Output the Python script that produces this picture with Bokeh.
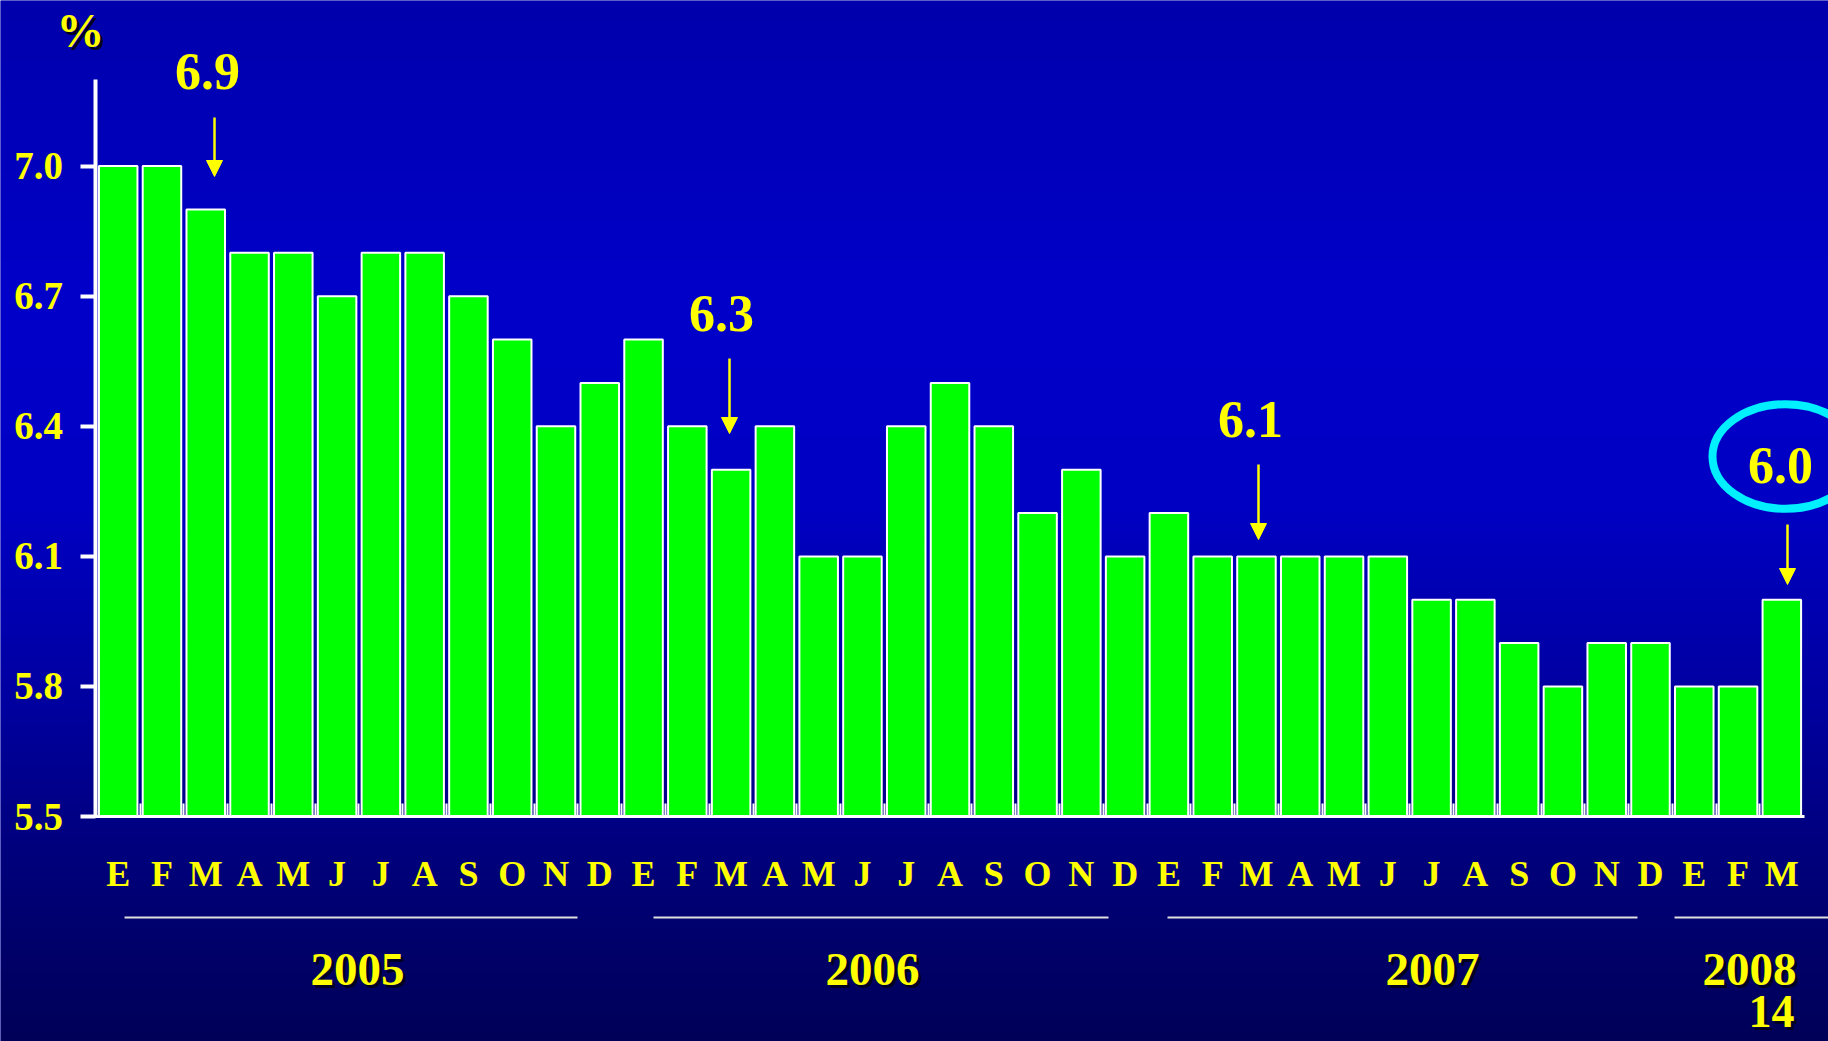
import numpy as np
from bokeh.plotting import figure
from bokeh.models import Range1d, LinearAxis, FixedTicker, Arrow, NormalHead, PrintfTickFormatter
from bokeh.core.properties import value
from bokeh.embed import file_html
from bokeh.resources import INLINE

# ---------------- data ----------------
months = ["E", "F", "M", "A", "M", "J", "J", "A", "S", "O", "N", "D"] * 3 + ["E", "F", "M"]
years = ["2005", "2006", "2007", "2008"]
values_2005 = [7.0, 7.0, 6.9, 6.8, 6.8, 6.7, 6.8, 6.8, 6.7, 6.6, 6.4, 6.5]
values_2006 = [6.6, 6.4, 6.3, 6.4, 6.1, 6.1, 6.4, 6.5, 6.4, 6.2, 6.3, 6.1]
values_2007 = [6.2, 6.1, 6.1, 6.1, 6.1, 6.1, 6.0, 6.0, 5.9, 5.8, 5.9, 5.9]
values_2008 = [5.8, 5.8, 6.0]
y_ticks = [5.5, 5.8, 6.1, 6.4, 6.7, 7.0]
highlight_idx = [2, 14, 26, 38]
unit_label = "%"
page_number = "14"
baseline_value = 5.5

values = values_2005 + values_2006 + values_2007 + values_2008
idx = list(range(len(values)))

# ---------------- layout (pixels) ----------------
W, H = 1828, 1041
X0, S = 95.8, 43.78      # left edge of first slot, slot width
Y55, K = 816.1, 433.7    # pixel row of 5.5, pixels per unit
TXT_SHIFT = -20          # text baseline correction

def dx(px):
    return -0.5 + (px - X0) / S

def dy(py):
    return baseline_value + (Y55 - py) / K

def ty(py):
    return dy(py + TXT_SHIFT)

YEL = "#FFFF00"
FONT = value("Liberation Serif")

p = figure(width=W, height=H, min_border=0, output_backend="svg", toolbar_location=None,
           x_range=Range1d(dx(0), dx(W)), y_range=Range1d(dy(H), dy(0)),
           x_axis_type=None, y_axis_type=None)
p.outline_line_color = None
p.background_fill_color = "#0000B0"
p.border_fill_color = "#0000B0"

# background gradient
rows = np.arange(H)
stops_px = [0, 300, 500, 700, 850, H]
stops_b = [172, 202, 196, 160, 125, 88]
blue = np.interp(rows, stops_px, stops_b)[::-1]
rgba = np.zeros((H, 2, 4), dtype=np.uint8)
rgba[:, :, 2] = blue[:, None].astype(np.uint8)
rgba[:, :, 3] = 255
img = rgba.view(dtype=np.uint32).reshape((H, 2))
p.image_rgba(image=[img], x=dx(0), y=dy(H), dw=dx(W) - dx(0), dh=dy(0) - dy(H))

# bars
p.vbar(x=idx, top=values, bottom=baseline_value, width=0.88,
       fill_color="#00FF00", line_color="white", line_width=2)

# x axis
xaxis = LinearAxis(fixed_location=baseline_value, bounds=(dx(94), dx(1804)),
                   ticker=FixedTicker(ticks=idx, minor_ticks=[i + 0.5 for i in idx[:-1]]),
                   major_label_overrides={i: m for i, m in enumerate(months)})
xaxis.axis_line_color = "white"
xaxis.axis_line_width = 3
xaxis.major_tick_line_color = None
xaxis.major_tick_out = 0
xaxis.major_tick_in = 0
xaxis.minor_tick_line_color = "white"
xaxis.minor_tick_line_width = 2
xaxis.minor_tick_in = 13
xaxis.minor_tick_out = 0
xaxis.major_label_standoff = 37
xaxis.major_label_text_font = "Liberation Serif"
xaxis.major_label_text_font_style = "bold"
xaxis.major_label_text_font_size = "36px"
xaxis.major_label_text_color = YEL
p.add_layout(xaxis, "below")

# y axis
yaxis = LinearAxis(fixed_location=dx(94.5), bounds=(baseline_value, 7.2),
                   ticker=FixedTicker(ticks=y_ticks, minor_ticks=[]),
                   formatter=PrintfTickFormatter(format="%.1f"))
yaxis.axis_line_color = "white"
yaxis.axis_line_width = 4
yaxis.major_tick_line_color = "white"
yaxis.major_tick_line_width = 4
yaxis.major_tick_out = 15
yaxis.major_tick_in = 0
yaxis.minor_tick_line_color = None
yaxis.major_label_standoff = 17
yaxis.major_label_text_font = "Liberation Serif"
yaxis.major_label_text_font_style = "bold"
yaxis.major_label_text_font_size = "39px"
yaxis.major_label_text_color = YEL
p.add_layout(yaxis, "left")

# "%" unit label with shadow
for off, col in ((3, "#000022"), (0, YEL)):
    p.text(x=[dx(80)], y=[ty(50)], text=[unit_label], text_font=FONT, text_font_style="bold",
           text_font_size="48px", text_color=col, text_align="center",
           text_baseline="alphabetic", x_offset=off, y_offset=off)

# highlight annotations
ann_text_x = [207, 721, 1250, 1780]
ann_text_y = [91, 333, 439, 485]
ann_arrow_x = [214, 729, 1258, 1787]
ann_arrow_y0 = [117, 358, 464, 524]
ann_arrow_y1 = [176, 433, 539, 584]
ann_labels = ["%.1f" % values[i] for i in highlight_idx]
p.text(x=[dx(v) for v in ann_text_x], y=[ty(v) for v in ann_text_y], text=ann_labels,
       text_font=FONT, text_font_style="bold", text_font_size="52px", text_color=YEL,
       text_align="center", text_baseline="alphabetic")
for ax, a0, a1 in zip(ann_arrow_x, ann_arrow_y0, ann_arrow_y1):
    p.add_layout(Arrow(x_start=dx(ax), y_start=dy(a0), x_end=dx(ax), y_end=dy(a1),
                       line_color=YEL, line_width=2.5,
                       end=NormalHead(size=16, fill_color=YEL, line_color=YEL, line_width=1)))

# circle around the latest value
p.ellipse(x=[dx(1785)], y=[dy(456)], width=146 / S, height=104.7 / K,
          fill_color=None, line_color="#00F0FF", line_width=8)

# year underlines
line_x0 = [124, 653, 1167, 1674]
line_x1 = [577, 1108, 1637, 1835]
p.segment(x0=[dx(v) for v in line_x0], y0=[dy(917)] * 4, x1=[dx(v) for v in line_x1],
          y1=[dy(917)] * 4, line_color="#E0E0E0", line_width=2)

# year labels with shadow
year_x = [357, 872, 1432, 1749]
for off, col in ((3, "#000022"), (0, YEL)):
    p.text(x=[dx(v) for v in year_x], y=[ty(989)] * 4, text=years, text_font=FONT,
           text_font_style="bold", text_font_size="47px", text_color=col, text_align="center",
           text_baseline="alphabetic", x_offset=off, y_offset=off)
    p.text(x=[dx(1771)], y=[ty(1031)], text=[page_number], text_font=FONT,
           text_font_style="bold", text_font_size="46px", text_color=col, text_align="center",
           text_baseline="alphabetic", x_offset=off, y_offset=off)

open("out.html", "w").write(file_html(p, INLINE))
